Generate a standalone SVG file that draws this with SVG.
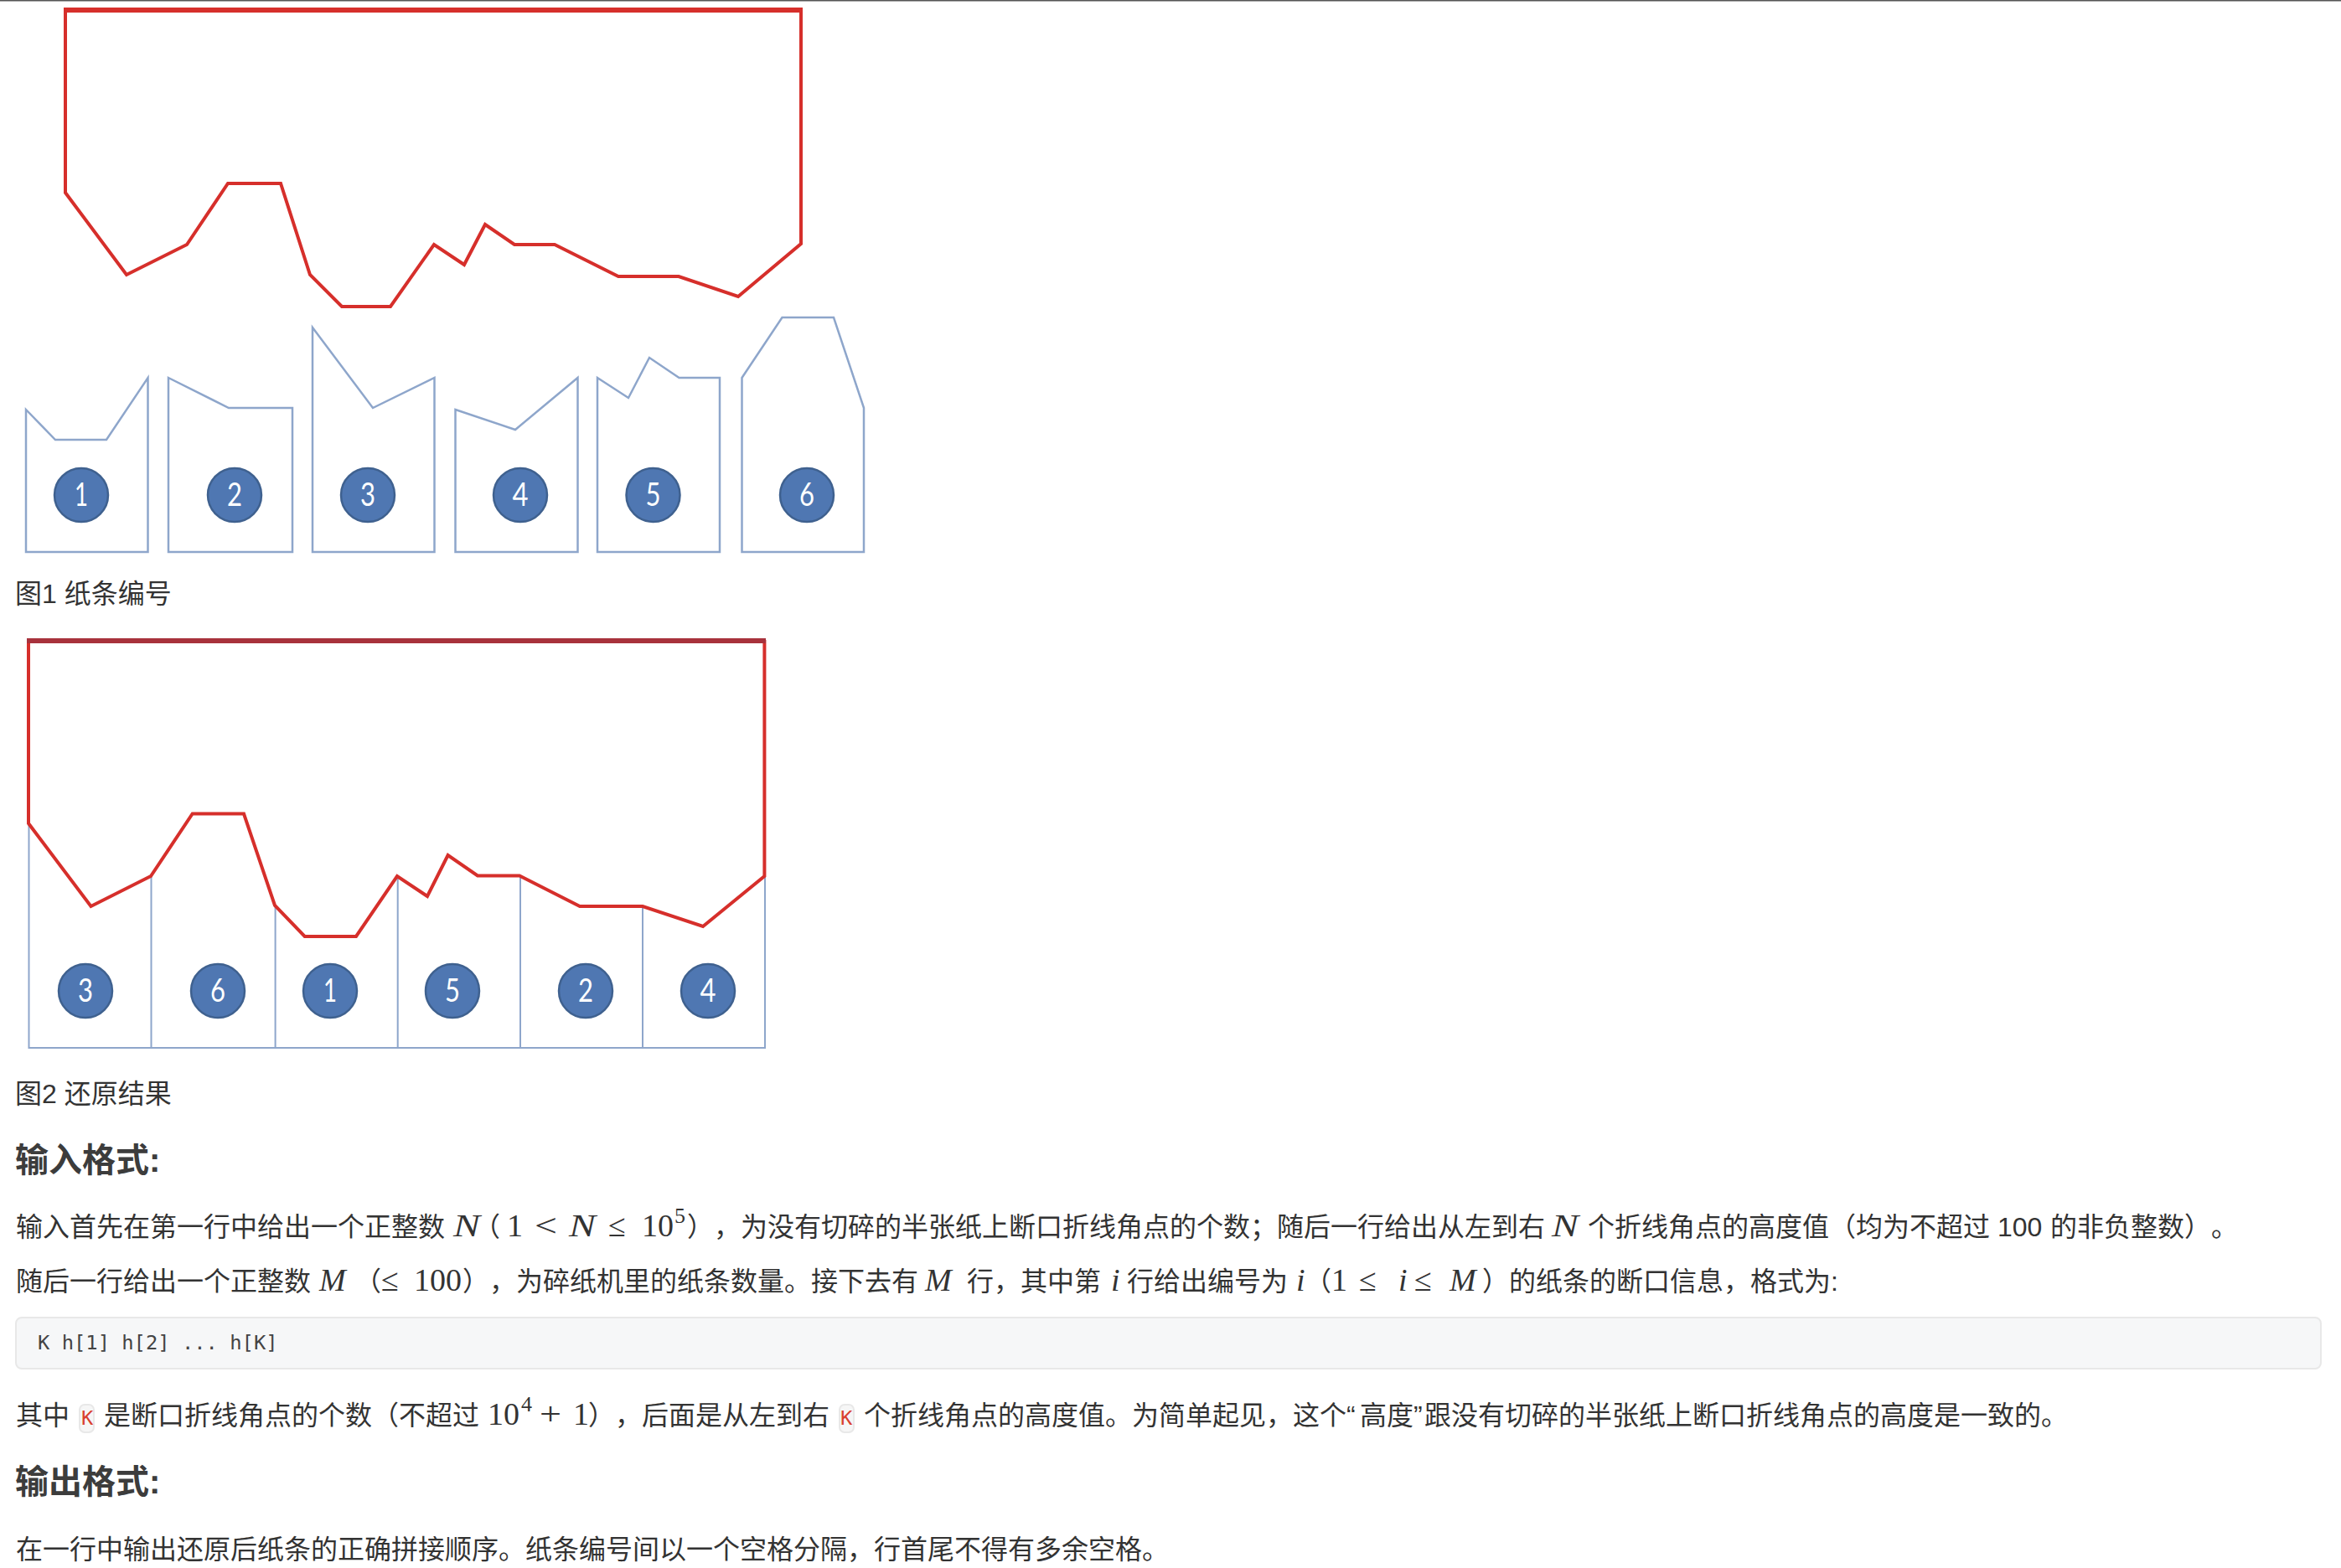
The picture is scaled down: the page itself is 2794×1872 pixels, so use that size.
<svg xmlns="http://www.w3.org/2000/svg" width="2794" height="1872" viewBox="0 0 2794 1872">
<style>
text{text-spacing-trim:space-all}
.red{fill:none;stroke:#d62f2b;stroke-width:4;stroke-linejoin:miter}
.top{fill:none;stroke:#d62f2b;stroke-width:6}
.top2{fill:none;stroke:#a8323c;stroke-width:6}
.blue{fill:none;stroke:#8ea6cb;stroke-width:2.500;stroke-linejoin:miter}
.thin{fill:none;stroke:#8ea6cb;stroke-width:2}
.c{fill:#4f77b2;stroke:#3f618f;stroke-width:2.500}
.n{font-family:"Lato","Liberation Sans",sans-serif;font-size:38px;fill:#fff;text-anchor:middle}
.t{font-family:"Liberation Sans","Noto Sans CJK SC",sans-serif;font-size:32px;fill:#333}
.h{font-family:"Liberation Sans","Noto Sans CJK SC",sans-serif;font-size:40px;font-weight:700;fill:#3c3c3c}
.m{font-family:"Liberation Serif",serif;font-size:38px;fill:#333}
.i{font-style:italic}
.s{font-size:26px}
.code{font-family:"DejaVu Sans Mono","Liberation Mono",monospace;font-size:23.800px;fill:#444}
.k{font-family:"DejaVu Sans Mono","Liberation Mono",monospace;font-size:23.800px;fill:#d9402f}
.pill{fill:#f6f6f6;stroke:#e8e8e8;stroke-width:2}
</style>
<rect width="2794" height="1872" fill="#fff"/>
<rect width="2794" height="1.500" fill="#555"/>
<g id="figure1">
<polygon class="red" points="78,12 78,230 151,328 223,292 272,219 335,219 370,328 408,366 466,366 518,292 554,316 579,268 614,292 662,292 738,330 810,330 881,354 956,291 956,12"/>
<path class="top" d="M76 12H958"/>
<g id="strip1-1"><polygon class="blue" points="31,489 66,525 127,525 176.500,451 176.500,659 31,659"/><circle class="c" cx="97" cy="591" r="32"/><text class="n" x="97" y="604" textLength="16" lengthAdjust="spacingAndGlyphs">1</text></g>
<g id="strip1-2"><polygon class="blue" points="201,451 273,487 349,487 349,659 201,659"/><circle class="c" cx="280" cy="591" r="32"/><text class="n" x="280" y="604" textLength="18" lengthAdjust="spacingAndGlyphs">2</text></g>
<g id="strip1-3"><polygon class="blue" points="373,391 445,487 518.500,451 518.500,659 373,659"/><circle class="c" cx="439" cy="591" r="32"/><text class="n" x="439" y="604" textLength="18" lengthAdjust="spacingAndGlyphs">3</text></g>
<g id="strip1-4"><polygon class="blue" points="543.500,489 615,513 689.500,451 689.500,659 543.500,659"/><circle class="c" cx="621" cy="591" r="32"/><text class="n" x="621" y="604" textLength="19" lengthAdjust="spacingAndGlyphs">4</text></g>
<g id="strip1-5"><polygon class="blue" points="713,451 750,475 775,427 810.500,451 859,451 859,659 713,659"/><circle class="c" cx="779.500" cy="591" r="32"/><text class="n" x="779.500" y="604" textLength="18" lengthAdjust="spacingAndGlyphs">5</text></g>
<g id="strip1-6"><polygon class="blue" points="885.500,451 933.500,379 995,379 1031,487 1031,659 885.500,659"/><circle class="c" cx="963" cy="591" r="32"/><text class="n" x="963" y="604" textLength="18" lengthAdjust="spacingAndGlyphs">6</text></g>
</g>
<text class="t" x="18" y="720">图1 纸条编号</text>
<g id="figure2">
<polyline class="thin" points="34.500,983 34.500,1251 913,1251 913,1046"/>
<path class="thin" d="M180.500 1046V1251M328.600 1081V1251M474.700 1046V1251M621 1046V1251M767 1081V1251"/>
<polygon class="red" points="34,766 34,983 108.500,1082 180,1046 229.700,971.500 291,971.500 328,1081 363.700,1118 425,1118 474,1046 510,1070 534.600,1021 570,1045.500 620,1045.500 692,1082 767,1082 839,1106 912.400,1046 912.400,766"/>
<path class="top2" d="M32 765H914"/>
<g id="strip2-3"><circle class="c" cx="102" cy="1183" r="32"/><text class="n" x="102" y="1196" textLength="18" lengthAdjust="spacingAndGlyphs">3</text></g>
<g id="strip2-6"><circle class="c" cx="260" cy="1183" r="32"/><text class="n" x="260" y="1196" textLength="18" lengthAdjust="spacingAndGlyphs">6</text></g>
<g id="strip2-1"><circle class="c" cx="394" cy="1183" r="32"/><text class="n" x="394" y="1196" textLength="16" lengthAdjust="spacingAndGlyphs">1</text></g>
<g id="strip2-5"><circle class="c" cx="540" cy="1183" r="32"/><text class="n" x="540" y="1196" textLength="18" lengthAdjust="spacingAndGlyphs">5</text></g>
<g id="strip2-2"><circle class="c" cx="699" cy="1183" r="32"/><text class="n" x="699" y="1196" textLength="18" lengthAdjust="spacingAndGlyphs">2</text></g>
<g id="strip2-4"><circle class="c" cx="845" cy="1183" r="32"/><text class="n" x="845" y="1196" textLength="19" lengthAdjust="spacingAndGlyphs">4</text></g>
</g>
<text class="t" x="18" y="1317">图2 还原结果</text>
<text class="h" x="18" y="1399">输入格式:</text>
<g id="line1">
<text class="t" x="19" y="1476">输入首先在第一行中给出一个正整数</text>
<text class="m i" x="541" y="1476" textLength="32" lengthAdjust="spacingAndGlyphs">N</text>
<text class="t" x="565" y="1476">（</text>
<text class="m" x="605" y="1476">1</text>
<text class="m" x="638" y="1476" textLength="27" lengthAdjust="spacingAndGlyphs">&lt;</text>
<text class="m i" x="679" y="1476" textLength="32" lengthAdjust="spacingAndGlyphs">N</text>
<text class="m" x="726" y="1476">≤</text>
<text class="m" x="766" y="1476">10</text>
<text class="m s" x="805" y="1460">5</text>
<text class="t" x="820" y="1476">），为没有切碎的半张纸上断口折线角点的个数；随后一行给出从左到右</text>
<text class="m i" x="1852" y="1476" textLength="32" lengthAdjust="spacingAndGlyphs">N</text>
<text class="t" x="1895" y="1476">个折线角点的高度值（均为不超过</text>
<text class="t" x="2384" y="1476">100</text>
<text class="t" x="2447" y="1476">的非负整数）。</text>
</g>
<g id="line2">
<text class="t" x="19" y="1541">随后一行给出一个正整数</text>
<text class="m i" x="381" y="1541">M</text>
<text class="t" x="423" y="1541">（</text>
<text class="m" x="455" y="1541">≤</text>
<text class="m" x="494" y="1541">100</text>
<text class="t" x="552" y="1541">），为碎纸机里的纸条数量。接下去有</text>
<text class="m i" x="1104" y="1541">M</text>
<text class="t" x="1154" y="1541">行，其中第</text>
<text class="m i" x="1326" y="1541">i</text>
<text class="t" x="1345" y="1541">行给出编号为</text>
<text class="m i" x="1547" y="1541">i</text>
<text class="t" x="1557" y="1541">（</text>
<text class="m" x="1589" y="1541">1</text>
<text class="m" x="1622" y="1541">≤</text>
<text class="m i" x="1669" y="1541">i</text>
<text class="m" x="1688" y="1541">≤</text>
<text class="m i" x="1730" y="1541">M</text>
<text class="t" x="1769" y="1541">）的纸条的断口信息，格式为:</text>
</g>
<g id="codeblock">
<rect x="19" y="1573" width="2751" height="61" rx="7" fill="#f6f7f8" stroke="#e8e8e8" stroke-width="2"/>
<text class="code" x="45" y="1611">K h[1] h[2] ... h[K]</text>
</g>
<g id="line3">
<text class="t" x="19" y="1701">其中</text>
<rect class="pill" x="95" y="1677" width="17" height="33" rx="6"/>
<text class="k" x="97" y="1701">K</text>
<text class="t" x="124" y="1701">是断口折线角点的个数（不超过</text>
<text class="m" x="582" y="1701">10</text>
<text class="m s" x="622" y="1685">4</text>
<text class="m" x="644" y="1701" textLength="26" lengthAdjust="spacingAndGlyphs">+</text>
<text class="m" x="684" y="1701">1</text>
<text class="t" x="702" y="1701">），</text>
<text class="t" x="766" y="1701">后面是从左到右</text>
<rect class="pill" x="1002" y="1677" width="17" height="33" rx="6"/>
<text class="k" x="1003" y="1701">K</text>
<text class="t" x="1031" y="1701">个折线角点的高度值。为简单起见，这个</text>
<text class="t" x="1607" y="1701">“</text>
<text class="t" x="1623" y="1701">高度</text>
<text class="t" x="1687" y="1701">”</text>
<text class="t" x="1700" y="1701">跟没有切碎的半张纸上断口折线角点的高度是一致的。</text>
</g>
<text class="h" x="18" y="1783">输出格式:</text>
<text class="t" x="19" y="1861">在一行中输出还原后纸条的正确拼接顺序。纸条编号间以一个空格分隔，行首尾不得有多余空格。</text>
</svg>
